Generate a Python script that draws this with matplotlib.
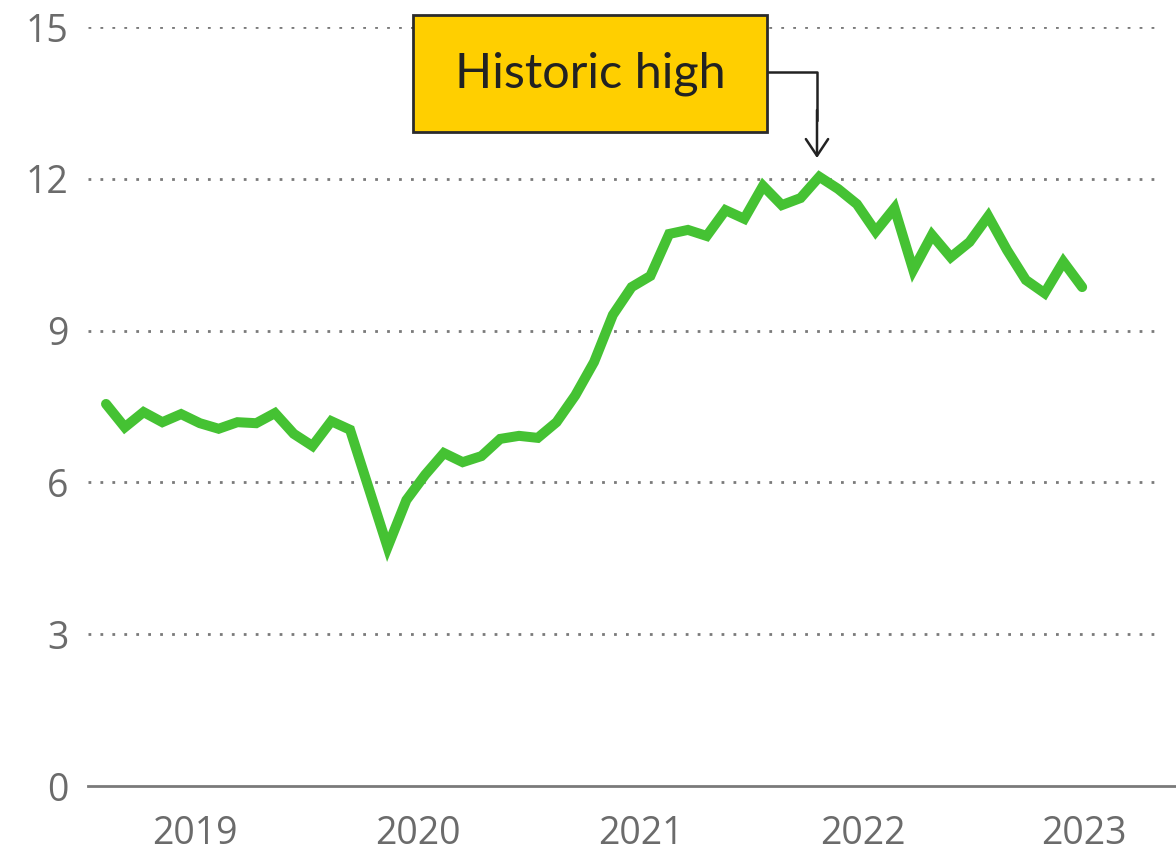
import matplotlib.pyplot as plt
from matplotlib.patches import Rectangle
from matplotlib.lines import Line2D

# monthly values
values = [7.55, 7.09, 7.39, 7.19, 7.35, 7.17, 7.06, 7.19, 7.17, 7.37,
          6.96, 6.72, 7.21, 7.04, 5.88, 4.72, 5.65, 6.15, 6.58, 6.40,
          6.52, 6.86, 6.92, 6.88, 7.19, 7.72, 8.38, 9.31, 9.86, 10.08,
          10.91, 10.99, 10.87, 11.38, 11.21, 11.86, 11.48, 11.62, 12.04, 11.80,
          11.50, 10.96, 11.42, 10.20, 10.89, 10.45, 10.75, 11.26, 10.59, 10.00,
          9.74, 10.36, 9.86]
months = list(range(len(values)))
year_labels = ["2019", "2020", "2021", "2022", "2023"]
year_pos = [4.75, 16.6, 28.5, 40.3, 52.1]
y_ticks = [0, 3, 6, 9, 12, 15]
note = "Historic high"

W, H = 1176, 855
fig = plt.figure(figsize=(W / 100, H / 100), dpi=100)
ax = fig.add_axes([88 / W, (H - 786) / H, (W - 88) / W, (786 - 27) / H])

grey = "#6b6b6b"
ax.set_xlim(-0.96, 57.0)
ax.set_ylim(0, 15)

# dotted grid, stops a bit short of the right edge
for v in y_ticks[1:]:
    ax.axhline(v, xmin=0, xmax=(1160 - 88) / (W - 88), color="#7a7a7a",
               lw=2.0, linestyle=(0, (1, 3.3)), zorder=1)
ax.axhline(0, color="#7a7a7a", lw=2.0, zorder=1, clip_on=False)

ax.plot(months, values, color="#45c233", lw=7.2, solid_joinstyle="miter",
        solid_capstyle="round", zorder=3)

for s in ax.spines.values():
    s.set_visible(False)
ax.set_yticks(y_ticks)
ax.set_yticklabels([str(v) for v in y_ticks])
ax.set_xticks(year_pos)
ax.set_xticklabels(year_labels)
ax.tick_params(axis="y", length=0, pad=14, labelsize=27, labelcolor=grey)
ax.tick_params(axis="x", length=0, pad=21, labelsize=27, labelcolor=grey)
for lab in ax.get_xticklabels() + ax.get_yticklabels():
    lab.set_fontfamily("Open Sans")

# annotation box + elbow arrow
bx0, by0, bx1, by1 = 413, 15, 767, 132
fig.patches.append(Rectangle((bx0 / W, 1 - by1 / H), (bx1 - bx0) / W, (by1 - by0) / H,
                             transform=fig.transFigure, facecolor="#ffcf00",
                             edgecolor="#2b2b2b", lw=2.0, zorder=5))
fig.text((bx0 + bx1) / 2 / W, 1 - 74 / H, note, ha="center", va="center",
         fontsize=35, color="#222222", family="Lato", zorder=6)
fig.lines.append(Line2D([bx1 / W, 817 / W, 817 / W],
                        [1 - 72 / H, 1 - 72 / H, 1 - 120 / H],
                        transform=fig.transFigure, color="#222222", lw=1.8))
ax.annotate("", xy=(817, H - 158), xycoords="figure pixels",
            xytext=(817, H - 110), textcoords="figure pixels",
            arrowprops=dict(arrowstyle="->,head_length=0.6,head_width=0.4",
                            color="#222222", lw=1.8, mutation_scale=20,
                            shrinkA=0, shrinkB=0))

fig.savefig("out.png", dpi=100)
